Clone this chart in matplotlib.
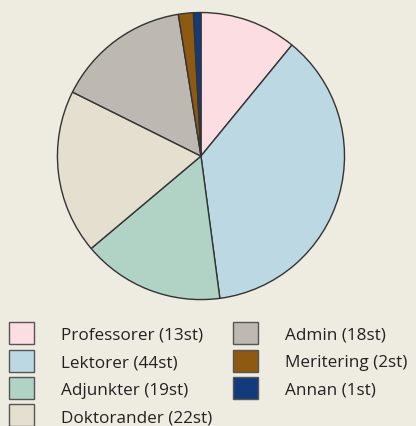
import matplotlib
matplotlib.use('Agg')
import matplotlib.pyplot as plt

# data
labels = ['Professorer', 'Lektorer', 'Adjunkter', 'Doktorander', 'Admin', 'Meritering', 'Annan']
counts = [13, 44, 19, 22, 18, 2, 1]
colors = ['#fbdde2', '#bcd9e3', '#b1d3c5', '#e5dfd0', '#bdb8b2', '#8e5a12', '#143a7e']

bg = '#eeebe0'
plt.rcParams['font.family'] = ['Open Sans', 'DejaVu Sans']

fig = plt.figure(figsize=(4.16, 4.27), dpi=100, facecolor=bg)
ax = fig.add_axes([0.1346, 0.2927, 0.697, 0.679])
ax.set_facecolor(bg)

wedges, _ = ax.pie(counts, colors=colors, startangle=90, counterclock=False,
                   wedgeprops=dict(edgecolor='#333333', linewidth=1.0))
ax.set_xlim(-1.01, 1.01)
ax.set_ylim(-1.01, 1.01)
ax.set_aspect('equal')

# legend, two columns below the pie
leg_labels = ['%s (%dst)' % (l, c) for l, c in zip(labels, counts)]
handles = [plt.Rectangle((0, 0), 1, 1, facecolor=c, edgecolor='#555555', linewidth=1.0)
           for c in colors]
leg = fig.legend(handles, leg_labels, ncol=2, loc='upper left',
                 bbox_to_anchor=(0.01, 0.255), frameon=False,
                 fontsize=12.3, handlelength=1.46, handleheight=1.6,
                 labelspacing=0.32, handletextpad=1.58, columnspacing=1.18,
                 borderaxespad=0, borderpad=0.3)
for t in leg.get_texts():
    t.set_color('#222222')

fig.savefig('out.png', dpi=100, facecolor=bg)
